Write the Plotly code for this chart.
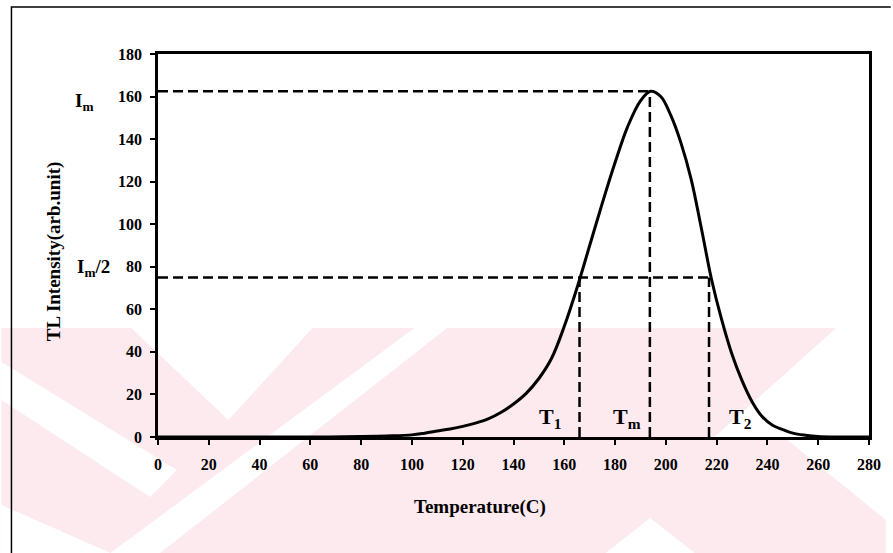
import plotly.graph_objects as go

# ---------------- data ----------------
temperature = [0, 20, 40, 60, 80, 90, 100, 105, 110, 115, 120, 125, 130, 135, 140, 145,
               150, 155, 160, 165, 170, 175, 180, 185, 190, 194, 198, 202, 206, 210,
               214, 218, 222, 226, 230, 234, 238, 242, 246, 250, 255, 260, 265, 270, 280]
intensity = [0, 0, 0, 0, 0.2, 0.5, 1.0, 1.8, 2.8, 3.8, 5.0, 6.5, 8.5, 11.5, 15.5, 20.5,
             27.5, 37, 52, 70, 90, 110, 129, 146, 158, 162.5, 160, 151, 138, 121,
             98, 74, 55, 39, 26.5, 16.5, 9.5, 5.5, 3.5, 1.8, 0.8, 0.2, 0, 0, 0]

I_m = 162.5        # peak intensity
I_half = 75        # half-maximum level
T_m = 193.7        # peak temperature
T_1 = 166          # low-temperature half-width point
T_2 = 217          # high-temperature half-width point

x_ticks = list(range(0, 281, 20))
y_ticks = list(range(0, 181, 20))

# ---------------- figure ----------------
W, H = 893, 553
ML, MR, MT, MB = 158, 17, 54, 116
PW, PH = W - ML - MR, H - MT - MB

def px(x):
    return (x - ML) / PW

def py(y):
    return (MT + PH - y) / PH

SERIF = "Liberation Serif"
DASH = "10px,5px"

fig = go.Figure()

# dashed guide lines
guide = dict(color="black", width=2.5, dash=DASH)
fig.add_trace(go.Scatter(x=[0, T_m], y=[I_m, I_m], mode="lines", line=guide, hoverinfo="skip"))
fig.add_trace(go.Scatter(x=[T_m, T_m], y=[0, I_m], mode="lines", line=guide, hoverinfo="skip"))
fig.add_trace(go.Scatter(x=[0, T_2], y=[I_half, I_half], mode="lines", line=guide, hoverinfo="skip"))
fig.add_trace(go.Scatter(x=[T_1, T_1], y=[0, I_half], mode="lines", line=guide, hoverinfo="skip"))
fig.add_trace(go.Scatter(x=[T_2, T_2], y=[0, I_half], mode="lines", line=guide, hoverinfo="skip"))

# glow curve
fig.add_trace(go.Scatter(x=temperature, y=intensity, mode="lines",
                         line=dict(color="black", width=3, shape="spline", smoothing=1.0)))

# ---------------- watermark (decorative) ----------------
PINK = "#fdeaee"
WHITE = "#ffffff"

def poly(points, color):
    d = "M " + " L ".join(f"{px(x):.4f},{py(y):.4f}" for x, y in points) + " Z"
    return dict(type="path", xref="paper", yref="paper", path=d,
                fillcolor=color, line=dict(width=0), layer="below")

shapes = [
    poly([(0, 328), (843, 328), (720, 437), (790, 437), (893, 520), (893, 553), (0, 553)], PINK),
    poly([(131, 328), (314, 328), (229, 420)], WHITE),
    poly([(0, 362), (0, 400), (150, 497), (177, 470)], WHITE),
    poly([(0, 505), (0, 553), (110, 553)], WHITE),
    poly([(110, 553), (160, 553), (450, 328), (417, 328)], WHITE),
    poly([(610, 553), (700, 553), (655, 518)], WHITE),
]

# outer frame
shapes.append(dict(type="path", xref="paper", yref="paper",
                   path=f"M {px(10):.4f},{py(H + 5):.4f} L {px(10):.4f},{py(7):.4f} L {px(W + 5):.4f},{py(7):.4f}",
                   line=dict(color="black", width=1.5), layer="above"))

fig.update_layout(shapes=shapes)

# ---------------- annotations ----------------
ann_font = dict(family=SERIF, size=22, color="black", weight="bold")
lab_font = dict(family=SERIF, size=19, color="black", weight="bold")
title_font = dict(family=SERIF, size=19, color="black", weight="bold")
annotations = [
    dict(x=154.5, y=9, xref="x", yref="y", text="T<sub>1</sub>", showarrow=False, font=ann_font),
    dict(x=184.5, y=9, xref="x", yref="y", text="T<sub>m</sub>", showarrow=False, font=ann_font),
    dict(x=229.5, y=9, xref="x", yref="y", text="T<sub>2</sub>", showarrow=False, font=ann_font),
    dict(x=px(72), y=py(88), xref="paper", yref="paper", text="I<sub>m</sub>", showarrow=False,
         font=lab_font),
    dict(x=px(74), y=py(268), xref="paper", yref="paper", text="I<sub>m</sub>/2", showarrow=False,
         font=lab_font),
    dict(x=px(483), y=py(520), xref="paper", yref="paper", text="Temperature(C)", showarrow=False,
         font=title_font),
    dict(x=px(40), y=py(252), xref="paper", yref="paper", text="TL Intensity(arb.unit)", showarrow=False,
         textangle=-90, font=title_font),
]

tick_font = dict(family=SERIF, size=16, color="black", weight="bold")

fig.update_layout(
    width=W, height=H,
    margin=dict(l=ML, r=MR, t=MT, b=MB, pad=0),
    paper_bgcolor="white",
    plot_bgcolor="rgba(0,0,0,0)",
    showlegend=False,
    annotations=annotations,
    xaxis=dict(range=[0, 280], tickvals=x_ticks, ticktext=[str(v) for v in x_ticks],
               showgrid=False, zeroline=False, showline=True, linecolor="black", linewidth=2.5,
               mirror=True, ticks="outside", ticklen=5, tickwidth=1.5, tickcolor="black",
               tickfont=tick_font, ticklabelstandoff=6),
    yaxis=dict(range=[0, 180], tickvals=y_ticks, ticktext=[str(v) for v in y_ticks],
               showgrid=False, zeroline=False, showline=True, linecolor="black", linewidth=2.5,
               mirror=True, ticks="outside", ticklen=5, tickwidth=1.5, tickcolor="black",
               tickfont=tick_font, ticklabelstandoff=5),
)

fig.write_html("out.html")
